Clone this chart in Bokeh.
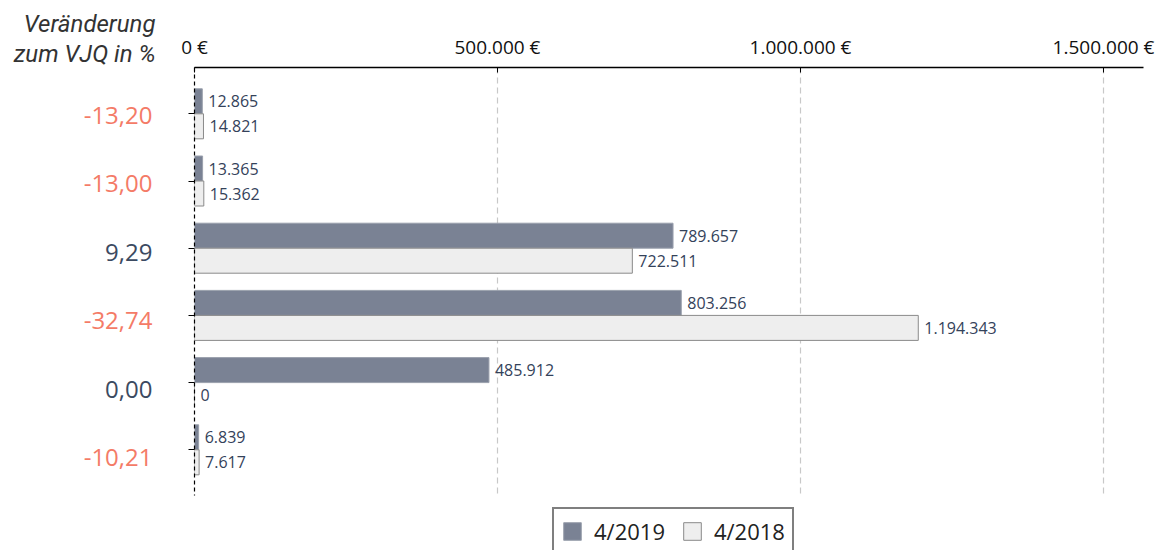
from bokeh.plotting import figure
from bokeh.layouts import row
from bokeh.models import (Range1d, FixedTicker, Legend, LegendItem,
                          ColumnDataSource, Title)
from bokeh.core.properties import value
from bokeh.embed import file_html
from bokeh.resources import INLINE

# ---- data ----
change_pct = [-13.20, -13.00, 9.29, -32.74, 0.00, -10.21]
values_2019 = [12865, 13365, 789657, 803256, 485912, 6839]
values_2018 = [14821, 15362, 722511, 1194343, 0, 7617]
series_names = ["4/2019", "4/2018"]
x_ticks = [0, 500000, 1000000, 1500000]
x_tick_labels = ["0 €", "500.000 €", "1.000.000 €", "1.500.000 €"]
title_lines = ["Veränderung", "zum VJQ in %"]

FONT = "Open Sans"
TITLE_FONT = "Roboto"
DARK = "#7a8294"
LIGHT = "#eeeeee"
LABEL_COL = "#34425a"
NEG_COL = "#f47b67"
POS_COL = "#3b4a61"


def de_num(v):
    return f"{v:,}".replace(",", ".")


def de_pct(v):
    return f"{v:.2f}".replace(".", ",")


n = len(values_2019)
idx = list(range(n))

# geometry (pixels)
W, H = 1172, 550
LEFT_W = 164
TOP = 67
UNIT = 67.2          # px per category
FIRST = 113.3        # px of first category centre
PLOT_BOTTOM = 495    # px where the plotted area ends
BAR_PX = 25.0        # bar thickness in px
LABEL_FIRST = 114.5  # px centre of first change label
LABEL_STEP = 68.5    # px between change labels

off = (BAR_PX / 2) / UNIT
bh = BAR_PX / UNIT
y_top = -(FIRST - TOP) / UNIT
y_end = (PLOT_BOTTOM - FIRST) / UNIT
y_bot = (H - FIRST) / UNIT

# ---- main figure ----
p = figure(width=W - LEFT_W, height=H, output_backend="svg",
           toolbar_location=None,
           x_range=Range1d(0, 1566000), y_range=Range1d(y_bot, y_top),
           x_axis_location="above",
           min_border_left=194 - LEFT_W, min_border_right=29,
           min_border_top=TOP, min_border_bottom=0)
p.outline_line_color = None
p.background_fill_color = "white"

# dashed vertical grid lines (ending where the plotted area ends)
p.xgrid.visible = False
p.ygrid.visible = False
grid_x = x_ticks[1:]
p.segment(x0=grid_x, x1=grid_x, y0=[y_top] * len(grid_x),
          y1=[y_end] * len(grid_x), line_color="#c8c8c8", line_width=1.2,
          line_dash="6 4")

src19 = ColumnDataSource(dict(y=[i - off for i in idx], v=values_2019,
                              lab=[de_num(v) for v in values_2019]))
src18 = ColumnDataSource(dict(y=[i + off for i in idx], v=values_2018,
                              lab=[de_num(v) for v in values_2018]))

r19 = p.hbar(y="y", right="v", left=0, height=bh, source=src19,
             fill_color=DARK, line_color="#9aa0ad", line_width=1)
r18 = p.hbar(y="y", right="v", left=0, height=bh, source=src18,
             fill_color=LIGHT, line_color="#8a8a8a", line_width=1)

for s in (src19, src18):
    p.text(x="v", y="y", text="lab", source=s, x_offset=6,
           text_align="left", text_baseline="middle",
           text_font=value(FONT), text_font_size="16px", text_color=LABEL_COL)

# x axis (top)
xa = p.xaxis[0]
xa.ticker = FixedTicker(ticks=x_ticks)
xa.major_label_overrides = {t: l for t, l in zip(x_ticks, x_tick_labels)}
xa.major_label_text_font = FONT
xa.major_label_text_font_size = "19px"
xa.major_label_text_color = "#111111"
xa.major_label_standoff = 8
xa.axis_line_color = "black"
xa.axis_line_width = 1.3
xa.major_tick_in = 5
xa.major_tick_out = 0
xa.major_tick_line_color = "black"
xa.minor_tick_line_color = None

# y axis (left, dashed)
ya = p.yaxis[0]
ya.ticker = FixedTicker(ticks=idx)
ya.bounds = (y_top, y_end)
ya.major_label_text_font_size = "0px"
ya.major_label_text_alpha = 0
ya.major_label_standoff = 0
ya.axis_line_dash = "4 3"
ya.axis_line_color = "black"
ya.axis_line_width = 1.2
ya.major_tick_in = 0
ya.major_tick_out = 6
ya.major_tick_line_color = "black"
ya.minor_tick_line_color = None

legend = Legend(items=[LegendItem(label=series_names[0], renderers=[r19]),
                       LegendItem(label=series_names[1], renderers=[r18])],
                location=(358, -5), orientation="horizontal",
                label_text_font=FONT, label_text_font_size="22px",
                label_text_color="#222222",
                glyph_width=22, glyph_height=22, label_standoff=11,
                spacing=16, padding=7, margin=0,
                border_line_color="black", border_line_width=2.2,
                background_fill_color="white", background_fill_alpha=1)
p.add_layout(legend, "center")

# ---- left side: percentage changes and their heading ----
left = figure(width=LEFT_W, height=H, output_backend="svg",
              toolbar_location=None, x_axis_type=None, y_axis_type=None,
              x_range=Range1d(0, LEFT_W), y_range=Range1d(y_bot, y_top),
              min_border_left=0, min_border_right=0, min_border_top=TOP,
              min_border_bottom=0)
left.outline_line_color = None
left.grid.visible = False
left.title = None

for line in reversed(title_lines):
    left.add_layout(Title(text=line, align="right", offset=9, standoff=0,
                          text_font=TITLE_FONT, text_font_size="24px",
                          text_font_style="italic", text_color="#333333"),
                    "above")

pct_src = ColumnDataSource(dict(
    x=[152] * n,
    y=[(LABEL_FIRST + LABEL_STEP * i - FIRST) / UNIT for i in idx],
    t=[de_pct(c) for c in change_pct],
    c=[NEG_COL if c < 0 else POS_COL for c in change_pct]))
left.text(x="x", y="y", text="t", color="c", source=pct_src,
          text_align="right", text_baseline="middle",
          text_font=value(FONT), text_font_size="24px")

layout = row(left, p, spacing=0)
open("out.html", "w").write(file_html(layout, INLINE))
